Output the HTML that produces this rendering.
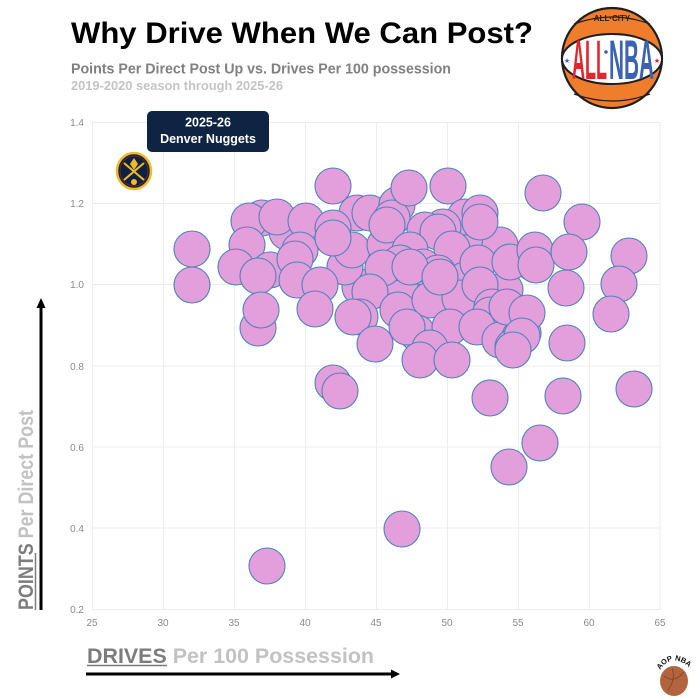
<!DOCTYPE html>
<html><head><meta charset="utf-8"><style>
html,body{margin:0;padding:0;background:#fff;}
svg{display:block;}
text{font-family:"Liberation Sans",sans-serif;}
</style></head><body>
<svg width="700" height="700" viewBox="0 0 700 700" xmlns="http://www.w3.org/2000/svg">
<rect width="700" height="700" fill="#fff"/>
<text x="71" y="43" font-size="30" font-weight="bold" fill="#000" textLength="462" lengthAdjust="spacingAndGlyphs">Why Drive When We Can Post?</text>
<text x="71" y="73.5" font-size="14.5" font-weight="bold" fill="#808080" textLength="380" lengthAdjust="spacingAndGlyphs">Points Per Direct Post Up vs. Drives Per 100 possession</text>
<text x="71" y="90" font-size="12.5" font-weight="bold" fill="#c4c4c4" textLength="212" lengthAdjust="spacingAndGlyphs">2019-2020 season through 2025-26</text>

<g stroke="#ececec" stroke-width="1">
<line x1="92" y1="122.5" x2="660" y2="122.5"/>
<line x1="92" y1="203.5" x2="660" y2="203.5"/>
<line x1="92" y1="284.5" x2="660" y2="284.5"/>
<line x1="92" y1="366" x2="660" y2="366"/>
<line x1="92" y1="447" x2="660" y2="447"/>
<line x1="92" y1="528" x2="660" y2="528"/>
<line x1="92" y1="609.5" x2="660" y2="609.5"/>
<line x1="92.5" y1="122" x2="92.5" y2="610"/>
<line x1="163.5" y1="122" x2="163.5" y2="610"/>
<line x1="234.5" y1="122" x2="234.5" y2="610"/>
<line x1="305.5" y1="122" x2="305.5" y2="610"/>
<line x1="376.5" y1="122" x2="376.5" y2="610"/>
<line x1="447.5" y1="122" x2="447.5" y2="610"/>
<line x1="518.5" y1="122" x2="518.5" y2="610"/>
<line x1="589.5" y1="122" x2="589.5" y2="610"/>
<line x1="660" y1="122" x2="660" y2="610"/>
</g>
<g font-size="10" fill="#8a8a8a" text-anchor="end">
<text x="84" y="126">1.4</text>
<text x="84" y="207">1.2</text>
<text x="84" y="288">1.0</text>
<text x="84" y="370">0.8</text>
<text x="84" y="451">0.6</text>
<text x="84" y="532">0.4</text>
<text x="84" y="613">0.2</text>
</g>
<g font-size="10" fill="#8a8a8a" text-anchor="middle">
<text x="92" y="626">25</text>
<text x="163" y="626">30</text>
<text x="234" y="626">35</text>
<text x="305" y="626">40</text>
<text x="376" y="626">45</text>
<text x="447" y="626">50</text>
<text x="518" y="626">55</text>
<text x="589" y="626">60</text>
<text x="660" y="626">65</text>
</g>

<g fill="#e39fdc" stroke="#4f82b8" stroke-width="1.1">
<circle cx="192" cy="249" r="18"/>
<circle cx="192" cy="285" r="18"/>
<circle cx="262" cy="218" r="18"/>
<circle cx="287" cy="232" r="18"/>
<circle cx="249" cy="221" r="18"/>
<circle cx="247" cy="245" r="18"/>
<circle cx="270" cy="270" r="18"/>
<circle cx="236" cy="267" r="18"/>
<circle cx="258" cy="276" r="18"/>
<circle cx="258" cy="328" r="18"/>
<circle cx="261" cy="310" r="18"/>
<circle cx="277" cy="217" r="18"/>
<circle cx="306" cy="221" r="18"/>
<circle cx="333" cy="186" r="18"/>
<circle cx="300" cy="250" r="18"/>
<circle cx="295" cy="259" r="18"/>
<circle cx="297" cy="280" r="18"/>
<circle cx="360" cy="287" r="18"/>
<circle cx="345" cy="267" r="18"/>
<circle cx="352" cy="250" r="18"/>
<circle cx="357" cy="213" r="18"/>
<circle cx="320" cy="285" r="18"/>
<circle cx="315" cy="309" r="18"/>
<circle cx="333" cy="228" r="18"/>
<circle cx="333" cy="238" r="18"/>
<circle cx="385" cy="245" r="18"/>
<circle cx="470" cy="240" r="18"/>
<circle cx="500" cy="245" r="18"/>
<circle cx="370" cy="213" r="18"/>
<circle cx="397" cy="205" r="18"/>
<circle cx="392" cy="218" r="18"/>
<circle cx="409" cy="188" r="18"/>
<circle cx="448" cy="186" r="18"/>
<circle cx="465" cy="217" r="18"/>
<circle cx="480" cy="213" r="18"/>
<circle cx="387" cy="225" r="18"/>
<circle cx="443" cy="227" r="18"/>
<circle cx="480" cy="222" r="18"/>
<circle cx="425" cy="230" r="18"/>
<circle cx="438" cy="232" r="18"/>
<circle cx="452" cy="249" r="18"/>
<circle cx="410" cy="250" r="18"/>
<circle cx="420" cy="290" r="18"/>
<circle cx="445" cy="300" r="18"/>
<circle cx="400" cy="285" r="18"/>
<circle cx="465" cy="280" r="18"/>
<circle cx="505" cy="290" r="18"/>
<circle cx="400" cy="263" r="18"/>
<circle cx="423" cy="267" r="18"/>
<circle cx="438" cy="273" r="18"/>
<circle cx="383" cy="268" r="18"/>
<circle cx="410" cy="267" r="18"/>
<circle cx="478" cy="263" r="18"/>
<circle cx="533" cy="263" r="18"/>
<circle cx="370" cy="292" r="18"/>
<circle cx="398" cy="310" r="18"/>
<circle cx="430" cy="300" r="18"/>
<circle cx="460" cy="298" r="18"/>
<circle cx="480" cy="285" r="18"/>
<circle cx="440" cy="277" r="18"/>
<circle cx="492" cy="307" r="18"/>
<circle cx="490" cy="315" r="18"/>
<circle cx="518" cy="313" r="18"/>
<circle cx="523" cy="333" r="18"/>
<circle cx="417" cy="333" r="18"/>
<circle cx="450" cy="327" r="18"/>
<circle cx="497" cy="330" r="18"/>
<circle cx="360" cy="317" r="18"/>
<circle cx="353" cy="317" r="18"/>
<circle cx="375" cy="344" r="18"/>
<circle cx="407" cy="327" r="18"/>
<circle cx="430" cy="348" r="18"/>
<circle cx="420" cy="360" r="18"/>
<circle cx="452" cy="360" r="18"/>
<circle cx="477" cy="327" r="18"/>
<circle cx="500" cy="340" r="18"/>
<circle cx="520" cy="337" r="18"/>
<circle cx="513" cy="347" r="18"/>
<circle cx="507" cy="307" r="18"/>
<circle cx="527" cy="313" r="18"/>
<circle cx="522" cy="336" r="18"/>
<circle cx="513" cy="350" r="18"/>
<circle cx="510" cy="262" r="18"/>
<circle cx="535" cy="250" r="18"/>
<circle cx="536" cy="265" r="18"/>
<circle cx="543" cy="193" r="18"/>
<circle cx="582" cy="222" r="18"/>
<circle cx="569" cy="252" r="18"/>
<circle cx="629" cy="256" r="18"/>
<circle cx="566" cy="288" r="18"/>
<circle cx="619" cy="284" r="18"/>
<circle cx="611" cy="314" r="18"/>
<circle cx="567" cy="343" r="18"/>
<circle cx="333" cy="383" r="18"/>
<circle cx="340" cy="391" r="18"/>
<circle cx="490" cy="398" r="18"/>
<circle cx="563" cy="396" r="18"/>
<circle cx="634" cy="389" r="18"/>
<circle cx="540" cy="443" r="18"/>
<circle cx="509" cy="467" r="18"/>
<circle cx="402" cy="529" r="18"/>
<circle cx="267" cy="566" r="18"/>
</g>

<rect x="147" y="111" width="122" height="41" rx="5" ry="5" fill="#0f2343"/>
<text x="208" y="126.5" font-size="12.5" font-weight="bold" fill="#fff" text-anchor="middle">2025-26</text>
<text x="208" y="143" font-size="12.5" font-weight="bold" fill="#fff" text-anchor="middle">Denver Nuggets</text>

<g>
<ellipse cx="134" cy="171" rx="17" ry="18" fill="#0e2240" stroke="#f2b928" stroke-width="2.5"/>
<ellipse cx="134" cy="171" rx="14" ry="15" fill="none" stroke="#8b2131" stroke-width="0.8"/>
<line x1="124" y1="163" x2="144" y2="180" stroke="#f2b928" stroke-width="2"/>
<line x1="144" y1="163" x2="124" y2="180" stroke="#f2b928" stroke-width="2"/>
<polygon points="134,158 138,164 134,170 130,164" fill="#f2b928"/>
<circle cx="134" cy="182" r="3" fill="#f2b928"/>
</g>

<g>
<circle cx="612" cy="58" r="50" fill="#ef7d2b" stroke="#1e1e1e" stroke-width="2.2"/>
<path d="M574,24 Q612,10 650,24" fill="none" stroke="#1e1e1e" stroke-width="1.2"/>
<path d="M574,94 Q612,108 650,94" fill="none" stroke="#1e1e1e" stroke-width="1.2"/>
<ellipse cx="612" cy="59" rx="50" ry="25" fill="#fff" stroke="#1e1e1e" stroke-width="2"/>
<text x="612" y="21" font-size="8" font-weight="bold" fill="#222" text-anchor="middle">ALL·CITY</text>
<text x="572" y="79" font-size="56" font-weight="bold" fill="#e3262e" textLength="35" lengthAdjust="spacingAndGlyphs">ALL</text>
<text x="609" y="79" font-size="56" font-weight="bold" fill="#3c63b3" textLength="45" lengthAdjust="spacingAndGlyphs">NBA</text>
<circle cx="606" cy="52" r="1.8" fill="#3c63b3"/>
<text x="567" y="63" font-size="7" fill="#3c63b3" text-anchor="middle">★</text>
<text x="657" y="63" font-size="7" fill="#e3262e" text-anchor="middle">★</text>
</g>

<g transform="translate(33,610) rotate(-90)">
<text x="0" y="0" font-size="21" font-weight="bold" textLength="200" lengthAdjust="spacingAndGlyphs"><tspan fill="#7c7c7c">POINTS</tspan><tspan fill="#c2c2c2"> Per Direct Post</tspan></text>
<line x1="0" y1="2.5" x2="57" y2="2.5" stroke="#7c7c7c" stroke-width="1.5"/>
</g>
<line x1="41" y1="610" x2="41" y2="307" stroke="#000" stroke-width="3"/>
<polygon points="41,298 36.5,308 45.5,308" fill="#000"/>

<text x="87" y="663" font-size="21" font-weight="bold" textLength="287" lengthAdjust="spacingAndGlyphs"><tspan fill="#7c7c7c">DRIVES</tspan><tspan fill="#c2c2c2"> Per 100 Possession</tspan></text>
<line x1="87" y1="665.5" x2="167" y2="665.5" stroke="#7c7c7c" stroke-width="1.5"/>
<line x1="86" y1="674" x2="392" y2="674" stroke="#000" stroke-width="3"/>
<polygon points="400,674 391,669.5 391,678.5" fill="#000"/>

<g>
<ellipse cx="674" cy="681" rx="14" ry="15" fill="#b2643f"/>
<path d="M664,676 Q674,684 684,672" fill="none" stroke="#7a3e25" stroke-width="0.7"/>
<path d="M668,690 Q676,680 672,668" fill="none" stroke="#7a3e25" stroke-width="0.7"/>
<path id="arc" d="M660,670 Q672,652 690,668" fill="none"/>
<text font-size="7.5" font-weight="bold" fill="#111"><textPath href="#arc">AOP NBA</textPath></text>
</g>
</svg>
</body></html>
